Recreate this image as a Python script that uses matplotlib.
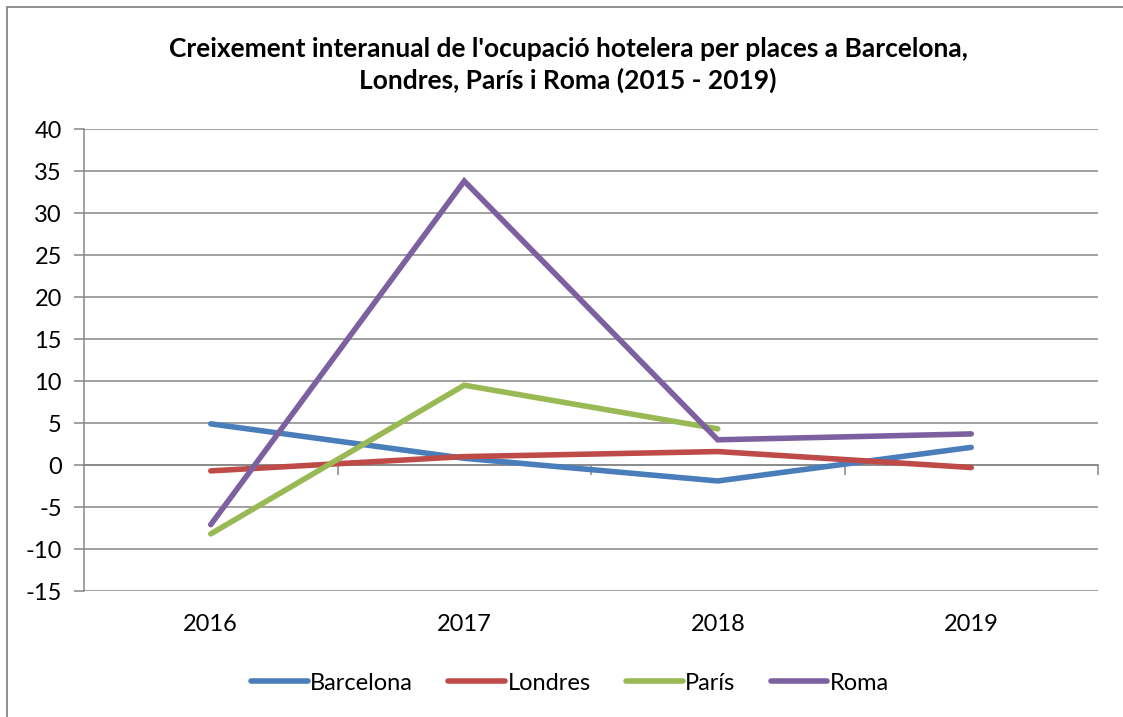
import matplotlib
matplotlib.use("Agg")
import matplotlib.pyplot as plt
import matplotlib.transforms as mtransforms
from matplotlib.patches import Rectangle
import numpy as np

plt.rcParams['font.family'] = ['Lato', 'DejaVu Sans']

years = ["2016", "2017", "2018", "2019"]
barcelona = [4.9, 0.8, -1.9, 2.1]
londres = [-0.7, 1.0, 1.6, -0.3]
paris = [-8.2, 9.5, 4.3, np.nan]
roma = [-7.1, 33.8, 3.0, 3.7]
series_names = ["Barcelona", "Londres", "París", "Roma"]
colors = ["#4A7EBB", "#BE4B48", "#98B954", "#7D60A0"]
title = "Creixement interanual de l'ocupació hotelera per places a Barcelona,\nLondres, París i Roma (2015 - 2019)"
yticks = list(range(-15, 41, 5))

W, H = 1123, 717
fig = plt.figure(figsize=(W / 100, H / 100), dpi=100)
ax = fig.add_axes([84 / W, 1 - 591 / H, (1098 - 84) / W, (591 - 129) / H])

# figure border (left and top visible)
fig.patches.append(Rectangle((7 / W, -0.1), 1.2, 1 - 7 / H + 0.1, transform=fig.transFigure,
                             fill=False, edgecolor="#868686", linewidth=1.3))

x = np.arange(len(years))
for vals, name, c in zip([barcelona, londres, paris, roma], series_names, colors):
    ax.plot(x, vals, color=c, linewidth=4.0, solid_capstyle="round",
            solid_joinstyle="miter", label=name, zorder=3)

ax.set_xlim(-0.5, len(years) - 0.5)
ax.set_ylim(-15, 40)
ax.set_yticks(yticks)
ax.set_yticklabels([str(v) for v in yticks], fontsize=17)
ax.yaxis.grid(True, color="#868686", linewidth=1.1)
ax.set_axisbelow(True)
ax.tick_params(axis="y", length=7, width=1.1, color="#868686", pad=9)

for s in ["top", "right"]:
    ax.spines[s].set_visible(False)
ax.spines["left"].set_color("#868686")
ax.spines["left"].set_linewidth(1.1)
ax.spines["bottom"].set_position(("data", 0))
ax.spines["bottom"].set_color("#868686")
ax.spines["bottom"].set_linewidth(1.1)

ax.set_xticks(np.arange(len(years)) + 0.5)
ax.set_xticklabels([])
ax.tick_params(axis="x", length=7, width=1.1, color="#868686", direction="out")

trans = mtransforms.blended_transform_factory(ax.transData, ax.transAxes)
for xi, lab in zip(x, years):
    ax.text(xi, -0.073, lab, transform=trans, ha="center", va="center", fontsize=17)

fig.text(568 / W, 1 - 65 / H, title, ha="center", va="center", fontsize=19,
         fontweight="bold", linespacing=1.3)

leg = fig.legend(loc="center", bbox_to_anchor=(570 / W, 1 - 683 / H), ncol=4,
                 frameon=False, fontsize=17, handlelength=2.4, handletextpad=0.1,
                 columnspacing=1.5)
for line in leg.get_lines():
    line.set_linewidth(4.0)

fig.savefig("out.png", dpi=100)
